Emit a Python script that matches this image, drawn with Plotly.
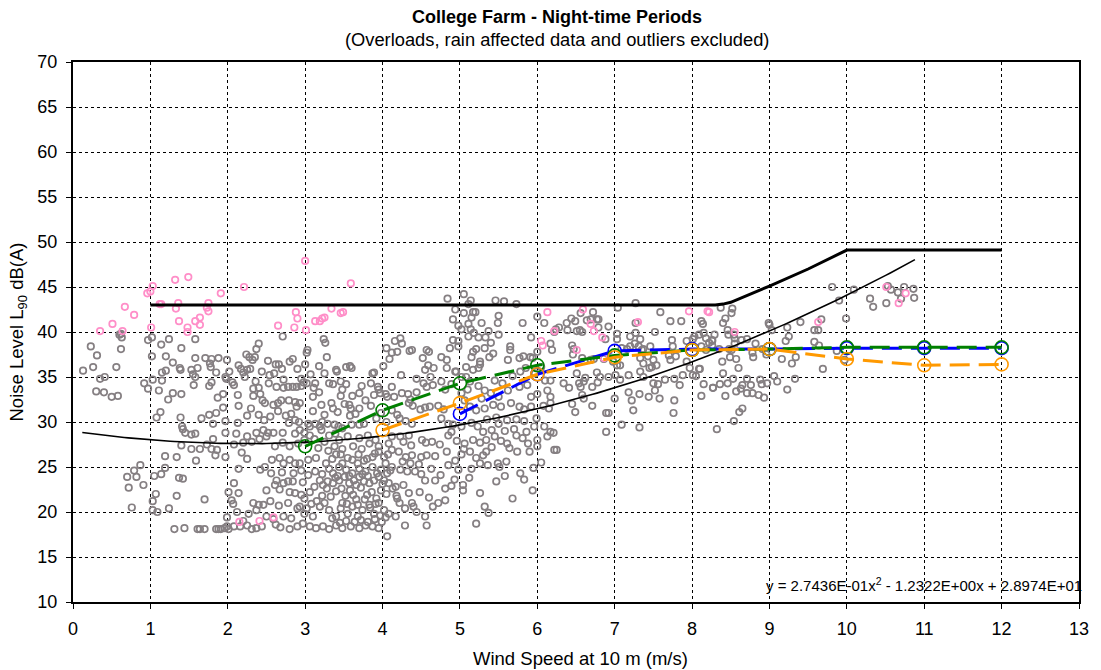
import numpy as np
import plotly.graph_objects as go

# ---- Measured night-time L90 samples (wind speed m/s, level dB(A)) ----
gray_0_2 = [
    (0.13, 35.7), (0.23, 38.4), (0.26, 36.1), (0.31, 37.4), (0.35, 34.8), (0.41, 35.0), (0.30, 33.4),
    (0.40, 33.3), (0.50, 32.8), (0.58, 32.9), (0.56, 36.1), (0.62, 38.1), (0.60, 39.7), (0.63, 39.4),
    (0.62, 39.8), (0.97, 39.1), (1.02, 39.4), (1.14, 38.6), (1.24, 39.2), (1.40, 38.2), (1.58, 39.2),
    (1.02, 37.3), (1.20, 37.3), (1.29, 36.6), (1.15, 35.5), (1.20, 35.7), (1.39, 35.8), (1.38, 36.0),
    (1.53, 35.8), (1.61, 36.0), (1.55, 35.3), (1.58, 35.0), (1.58, 37.1), (1.71, 37.1), (1.79, 37.0),
    (1.88, 37.1), (1.99, 36.9), (1.77, 36.5), (1.78, 36.1), (1.85, 35.5), (1.97, 35.0), (1.98, 34.8),
    (2.02, 35.6), (0.92, 34.3), (0.97, 33.7), (1.03, 34.7), (1.15, 34.6), (1.11, 33.5), (1.29, 33.2),
    (1.40, 33.1), (1.23, 32.5), (1.56, 34.1), (1.76, 34.0), (1.79, 34.4), (1.87, 32.7), (1.94, 33.1),
    (2.06, 34.4), (1.13, 31.1), (1.08, 30.5), (1.39, 30.5), (1.66, 30.4), (1.76, 30.8), (1.85, 31.0),
    (1.94, 31.6), (1.81, 29.8), (1.97, 30.1), (1.41, 29.5), (1.42, 29.2), (1.45, 28.8), (1.53, 28.6),
    (1.58, 28.7), (1.97, 28.8), (1.81, 28.1), (1.40, 27.4), (1.53, 27.0), (1.64, 27.0), (1.73, 27.5),
    (1.79, 27.0), (1.86, 26.9), (1.84, 26.3), (1.97, 26.1), (1.19, 26.2), (1.34, 26.1), (1.59, 25.7),
    (0.87, 25.2), (0.79, 24.6), (0.70, 23.9), (0.82, 23.9), (0.72, 22.7), (0.91, 23.0), (1.05, 24.0),
    (1.14, 24.2), (1.19, 24.9), (1.37, 23.8), (1.42, 23.7), (1.07, 22.0), (1.03, 21.2), (1.34, 21.8),
    (1.70, 21.4), (0.76, 20.5), (1.03, 20.2), (1.09, 20.0), (1.24, 20.4), (2.01, 22.2), (2.05, 21.3),
    (2.07, 20.9), (1.99, 19.4), (1.31, 18.1), (1.44, 18.2), (1.61, 18.1), (1.64, 18.1), (1.70, 18.1),
    (1.85, 18.1), (1.88, 18.1), (1.91, 18.1), (1.96, 18.2), (2.01, 18.1), (1.99, 18.4),
]

gray_2_4 = [
    (2.71, 39.5), (3.24, 39.2), (3.26, 38.8), (2.40, 38.7), (2.37, 38.1), (2.24, 37.5), (2.28, 37.2),
    (2.32, 36.9), (2.35, 37.2), (3.03, 38.0), (3.02, 37.7), (3.28, 37.2), (2.52, 36.8), (2.62, 36.4),
    (2.66, 36.4), (2.80, 36.7), (2.84, 37.0), (2.14, 36.3), (2.17, 35.9), (2.25, 35.8), (2.29, 35.9),
    (2.20, 35.5), (2.22, 35.0), (2.54, 35.2), (3.40, 35.8), (3.41, 35.6), (3.53, 36.1), (3.58, 36.2),
    (3.60, 36.0), (3.89, 35.5), (3.87, 35.4), (4.01, 36.2), (4.05, 38.2), (4.09, 37.0), (3.07, 35.3),
    (2.95, 34.8), (2.98, 34.4), (2.72, 34.7), (3.02, 34.3), (3.13, 34.3), (3.11, 33.8), (3.18, 33.3),
    (3.10, 32.8), (2.08, 34.1), (2.13, 33.0), (2.14, 31.8), (2.33, 33.7), (2.40, 33.8), (2.33, 32.9),
    (2.42, 33.1), (2.45, 32.4), (2.48, 32.1), (2.53, 34.3), (2.63, 33.9), (2.72, 33.8), (2.78, 33.9),
    (2.84, 33.9), (2.89, 33.9), (2.95, 34.0), (2.59, 31.9), (2.65, 32.1), (2.69, 32.4), (2.79, 32.4),
    (2.87, 32.2), (2.93, 32.1), (2.89, 31.7), (3.31, 34.3), (3.36, 34.2), (3.46, 34.5), (3.53, 34.2),
    (3.73, 34.0), (3.85, 34.3), (3.95, 33.6), (3.94, 33.9), (3.61, 32.9), (3.46, 32.9), (3.34, 32.1),
    (3.36, 31.5), (3.21, 31.9), (3.25, 30.8), (3.22, 30.0), (3.51, 32.0), (3.57, 31.9), (3.59, 31.5),
    (3.65, 30.9), (3.58, 30.7), (3.42, 31.1), (3.10, 31.2), (3.89, 33.0), (3.97, 33.2), (4.04, 33.1),
    (4.06, 32.8), (2.25, 30.7), (2.47, 30.2), (2.13, 29.9), (2.75, 30.7), (2.82, 30.9), (2.87, 30.2),
    (2.79, 29.9), (2.92, 30.0), (3.04, 29.8), (3.13, 29.8), (3.06, 29.5), (3.19, 29.5), (3.29, 29.8),
    (3.38, 29.7), (3.43, 29.5), (3.48, 29.3), (3.39, 28.7), (3.60, 29.7), (3.70, 29.7), (3.76, 29.8),
    (2.11, 28.7), (2.25, 28.4), (2.37, 28.8), (2.46, 29.1), (2.52, 28.8), (2.59, 28.8), (2.71, 28.8),
    (2.87, 28.7), (2.93, 29.1), (2.99, 28.8), (3.06, 28.5), (3.21, 29.1), (3.31, 28.5), (3.44, 28.0),
    (3.55, 28.4), (3.70, 28.2), (3.81, 28.5), (3.83, 27.6), (3.91, 28.0), (3.95, 27.3), (4.08, 27.6),
    (2.08, 27.5), (2.20, 27.7), (2.31, 27.8), (2.41, 28.1), (2.50, 28.4), (2.61, 27.3), (2.71, 27.7),
    (2.80, 27.3), (2.91, 27.6), (2.99, 28.0), (3.12, 28.1), (3.25, 27.8), (3.38, 27.3), (2.18, 26.6),
    (2.25, 25.9), (2.14, 24.8), (2.42, 24.7), (2.48, 25.0), (2.57, 25.8), (2.67, 26.0), (2.72, 25.4),
    (2.80, 25.8), (2.87, 25.4), (2.93, 25.4), (3.04, 25.8), (3.14, 26.0), (3.27, 25.4), (3.40, 26.4),
    (3.46, 26.4), (3.55, 26.0), (3.61, 25.8), (3.68, 25.4), (3.76, 25.7), (3.87, 26.1), (3.95, 26.7),
    (4.02, 26.1), (4.04, 25.4), (2.63, 23.5), (2.72, 23.2), (2.78, 23.4), (2.84, 23.4), (2.61, 23.0),
    (2.67, 22.5), (2.80, 22.2), (2.87, 22.1), (2.95, 21.9), (2.99, 21.5), (3.06, 22.2), (3.12, 22.8),
    (3.19, 23.5), (3.23, 23.0), (3.29, 23.4), (3.36, 23.2), (3.44, 23.5), (3.51, 23.9), (3.57, 23.2),
    (3.63, 23.5), (3.70, 23.9), (3.76, 23.4), (3.83, 23.2), (3.89, 23.5), (3.95, 23.9), (4.02, 23.5),
    (4.08, 23.2), (2.33, 21.0), (2.40, 20.8), (2.27, 19.8), (2.50, 19.5), (2.59, 19.2), (2.72, 19.5),
    (2.82, 19.3), (2.93, 20.6), (2.99, 19.8), (3.10, 19.5), (3.19, 20.6), (3.25, 21.0), (3.31, 20.2),
    (3.40, 19.5), (3.48, 21.0), (3.55, 19.8), (3.61, 20.6), (3.68, 19.5), (3.74, 20.2), (3.83, 20.8),
    (3.89, 19.8), (3.95, 21.0), (4.02, 20.2), (4.08, 19.8), (2.08, 18.4), (2.16, 18.4), (2.25, 18.5),
    (2.31, 18.1), (2.37, 18.2), (2.44, 18.4), (2.80, 18.1), (3.06, 18.4), (3.14, 18.2), (3.23, 18.4),
    (3.31, 18.1), (3.40, 18.5), (3.48, 18.2), (3.59, 18.4), (3.70, 18.2), (3.78, 18.5), (3.87, 18.4),
    (3.95, 18.2), (4.06, 17.3), (3.44, 25.0), (3.53, 24.7), (3.61, 24.3), (3.70, 24.8), (3.78, 24.5),
    (3.87, 25.0), (3.98, 24.7), (4.06, 24.3), (3.36, 24.3), (3.48, 25.4), (2.08, 23.2), (2.14, 22.1),
    (2.12, 20.0), (2.37, 20.2), (2.20, 19.0),
]

# Dense low-wind cluster, 2.3 - 4.2 m/s
gray_cluster = [
    (3.30, 26.8), (3.35, 25.9), (3.42, 24.0), (3.47, 22.6), (3.52, 21.8), (3.58, 22.4), (3.66, 21.4),
    (3.72, 22.7), (3.80, 21.9), (3.86, 22.2), (3.92, 21.5), (3.98, 22.4), (4.05, 22.0), (3.33, 21.7),
    (3.40, 22.3), (3.46, 20.4), (3.54, 20.9), (3.62, 21.9), (3.68, 20.8), (3.77, 21.4), (3.84, 20.5),
    (3.91, 20.9), (3.97, 19.6), (4.04, 19.4), (3.35, 19.3), (3.45, 18.8), (3.53, 19.0), (3.64, 18.9),
    (3.72, 19.1), (3.81, 18.9), (3.90, 19.2), (3.99, 18.9), (3.28, 22.6), (3.22, 21.8), (3.15, 21.2),
    (3.08, 20.9), (3.02, 20.4), (2.97, 23.3), (3.04, 24.1), (3.13, 24.5), (3.22, 24.2), (3.31, 24.8),
    (3.39, 23.8), (3.57, 24.0), (3.66, 23.0), (3.74, 24.2), (3.81, 24.0), (3.93, 24.3), (4.00, 23.1),
    (4.10, 24.6), (4.13, 22.6), (3.17, 27.1), (3.48, 27.0), (3.62, 27.3), (3.73, 27.0), (3.90, 26.5),
    (4.07, 26.4), (3.69, 26.4), (3.80, 25.9), (2.56, 24.3), (2.70, 24.4), (2.85, 24.3), (2.95, 24.6),
    (2.50, 22.4), (2.55, 21.2), (2.66, 20.7), (2.78, 21.0), (2.90, 20.4), (2.46, 20.8), (2.62, 18.6),
    (2.68, 18.3), (2.90, 18.4), (2.97, 18.7), (2.30, 31.5), (2.40, 30.8), (2.55, 30.6), (2.65, 31.2),
    (2.36, 34.5), (2.44, 35.6), (2.60, 35.4), (2.70, 35.9), (2.90, 35.9), (3.00, 36.4), (3.18, 36.2),
    (3.25, 35.4), (3.48, 33.6), (3.70, 33.2), (3.78, 32.4), (3.70, 31.5), (3.85, 31.8), (3.98, 31.0),
    (4.05, 30.0), (3.92, 30.4),
]

gray_4_6 = [
    (4.84, 43.7), (5.05, 44.2), (5.14, 43.5), (5.11, 43.1), (5.46, 43.5), (5.57, 43.4), (5.73, 43.1),
    (4.94, 42.5), (5.05, 42.1), (5.17, 42.2), (5.20, 42.2), (4.91, 41.4), (5.15, 41.6), (5.28, 41.0),
    (5.50, 41.8), (5.49, 41.0), (5.81, 41.0), (6.00, 41.7), (6.09, 41.0), (4.98, 40.7), (5.02, 40.3),
    (5.11, 40.9), (5.14, 40.3), (5.18, 39.9), (5.11, 39.5), (4.16, 39.0), (4.23, 39.3), (4.25, 38.7),
    (4.91, 39.1), (4.98, 39.0), (4.98, 38.4), (5.24, 39.4), (5.33, 39.4), (5.37, 40.1), (5.40, 38.8),
    (5.50, 39.7), (5.65, 38.4), (5.65, 38.0), (5.92, 39.4), (5.91, 37.2), (4.35, 37.9), (4.38, 38.0),
    (4.57, 38.0), (4.60, 37.8), (4.76, 37.2), (4.83, 36.9), (4.87, 38.2), (5.17, 37.8), (5.21, 38.1),
    (5.32, 38.2), (5.15, 37.2), (5.26, 36.7), (5.38, 37.2), (5.43, 37.6), (5.62, 36.9), (5.77, 37.1),
    (5.82, 37.3), (5.94, 37.1), (6.00, 37.8), (4.52, 37.1), (4.59, 36.3), (4.55, 35.8), (4.66, 36.0),
    (4.83, 36.0), (4.94, 35.6), (5.08, 36.1), (5.17, 35.8), (5.24, 36.0), (5.26, 36.4), (4.12, 37.7),
    (4.19, 37.8), (4.24, 35.2), (4.44, 34.8), (4.62, 35.0), (4.76, 34.5), (4.95, 35.6), (4.53, 34.3),
    (4.57, 33.9), (4.65, 34.1), (4.81, 33.6), (4.89, 34.2), (4.12, 33.9), (4.15, 32.8), (4.25, 33.2),
    (4.33, 33.1), (4.36, 32.5), (4.44, 33.3), (4.34, 32.1), (5.02, 35.0), (5.08, 35.0), (5.13, 34.5),
    (5.32, 33.5), (5.40, 33.2), (5.50, 32.8), (5.62, 33.5), (5.77, 33.9), (5.87, 34.1), (5.92, 32.8),
    (6.00, 33.1), (6.13, 33.5), (6.17, 32.8), (4.39, 31.8), (4.49, 31.4), (4.55, 31.6), (4.61, 31.7),
    (4.72, 31.8), (4.79, 31.4), (4.12, 31.3), (4.19, 30.8), (4.22, 30.4), (4.30, 30.1), (4.38, 29.8),
    (5.13, 31.7), (5.21, 31.3), (5.32, 31.5), (5.43, 31.9), (5.53, 31.7), (5.66, 32.1), (5.77, 31.7),
    (5.83, 31.4), (5.92, 31.7), (6.08, 31.8), (6.15, 31.5), (4.76, 30.4), (4.85, 29.8), (4.91, 29.7),
    (4.89, 28.9), (5.02, 29.5), (5.15, 29.9), (5.23, 29.5), (5.30, 28.9), (5.41, 29.1), (5.50, 29.8),
    (5.61, 30.2), (5.73, 30.3), (5.83, 30.1), (5.96, 29.5), (6.09, 29.5), (6.17, 28.9), (4.12, 28.4),
    (4.23, 28.4), (4.34, 28.5), (4.27, 27.8), (4.37, 27.4), (4.51, 28.0), (4.56, 27.7), (4.64, 27.8),
    (4.74, 27.5), (4.85, 28.5), (4.96, 27.9), (5.06, 27.6), (5.17, 28.0), (5.26, 27.7), (5.34, 28.0),
    (5.45, 28.4), (5.53, 27.9), (5.61, 27.6), (5.73, 28.5), (5.81, 28.2), (5.88, 27.6), (6.00, 28.0),
    (6.13, 28.4), (4.12, 26.9), (4.21, 26.7), (4.30, 26.1), (4.38, 26.3), (4.50, 26.1), (4.57, 26.3),
    (4.68, 26.2), (4.83, 26.7), (4.94, 25.7), (5.02, 26.4), (5.13, 26.7), (5.21, 26.0), (5.34, 26.7),
    (5.49, 25.4), (5.60, 25.6), (5.74, 26.7), (5.90, 26.7), (6.00, 27.3), (6.22, 26.9), (4.12, 25.0),
    (4.23, 24.7), (4.32, 24.5), (4.42, 24.5), (4.55, 23.5), (4.68, 23.5), (4.81, 22.6), (4.89, 22.9),
    (4.98, 24.7), (5.04, 23.0), (5.15, 24.8), (5.26, 25.4), (5.36, 25.2), (5.47, 23.4), (5.51, 25.0),
    (5.83, 23.6), (5.94, 22.4), (4.17, 22.8), (4.27, 23.0), (4.34, 22.1), (4.19, 21.5), (4.29, 20.4),
    (4.38, 21.0), (4.44, 20.0), (4.55, 19.5), (4.72, 21.0), (4.81, 21.3), (5.04, 22.4), (5.26, 22.1),
    (5.32, 20.6), (5.37, 19.9), (5.68, 21.5), (5.21, 18.7), (4.29, 18.5), (4.57, 18.5), (4.17, 19.5),
    (4.18, 21.8), (4.22, 21.0), (4.40, 20.6), (4.48, 22.2), (4.60, 21.6), (4.65, 20.6), (4.50, 24.2),
    (4.63, 24.8), (4.75, 24.1), (4.85, 25.2), (4.26, 25.6), (4.36, 25.4), (4.47, 25.3), (5.02, 33.2),
    (5.06, 32.4), (5.10, 33.6), (5.24, 34.0), (5.28, 32.6), (5.45, 34.6), (5.55, 34.3), (5.68, 35.1),
    (5.78, 35.6), (5.85, 36.0), (5.97, 35.4), (6.05, 36.1), (6.10, 34.6), (5.35, 30.3), (5.47, 30.5),
    (5.58, 29.0), (5.70, 29.2), (5.86, 28.9), (5.99, 30.4), (5.05, 27.0), (5.30, 26.3), (5.41, 27.2),
    (5.64, 27.1), (5.95, 24.9), (6.05, 25.5), (5.78, 24.3), (5.58, 24.0), (5.12, 23.8), (4.93, 23.6),
]

gray_6_8 = [
    (7.27, 43.2), (7.04, 42.7), (6.72, 42.2), (6.56, 42.1), (7.59, 42.2), (6.44, 41.5), (6.38, 41.0),
    (6.49, 41.2), (6.64, 41.3), (6.69, 41.4), (6.77, 41.4), (6.79, 41.4), (7.72, 41.2), (7.86, 41.2),
    (8.12, 41.2), (8.14, 40.9), (7.27, 41.0), (6.22, 40.0), (6.28, 40.5), (6.24, 40.3), (6.39, 40.2),
    (6.51, 40.1), (6.55, 40.2), (6.58, 40.0), (6.79, 40.5), (6.88, 39.2), (6.92, 40.6), (7.03, 39.8),
    (7.03, 39.2), (7.20, 39.5), (7.27, 39.9), (7.33, 39.2), (7.26, 38.7), (7.31, 38.4), (7.35, 38.0),
    (7.46, 38.4), (7.52, 40.0), (7.74, 39.1), (7.75, 38.4), (7.93, 39.0), (8.01, 39.2), (8.03, 39.5),
    (8.09, 39.7), (8.15, 39.9), (8.18, 39.3), (8.22, 38.8), (8.26, 39.1), (8.12, 38.4), (6.17, 38.7),
    (6.19, 38.0), (6.45, 38.5), (6.47, 38.1), (6.46, 37.5), (7.09, 38.2), (7.16, 38.1), (7.20, 38.4),
    (7.37, 38.1), (7.33, 37.1), (7.43, 37.3), (7.50, 36.9), (7.45, 36.0), (7.48, 36.1), (7.37, 36.5),
    (7.54, 36.3), (7.70, 37.4), (7.72, 36.9), (7.79, 37.3), (7.93, 36.7), (7.97, 36.0), (8.10, 35.9),
    (8.18, 38.0), (6.58, 37.1), (6.69, 36.9), (6.73, 37.0), (6.86, 37.0), (6.51, 35.4), (6.77, 35.5),
    (7.03, 36.3), (7.07, 36.3), (6.98, 36.7), (6.17, 34.6), (6.34, 34.3), (6.41, 33.8), (6.54, 34.3),
    (6.56, 33.9), (6.60, 34.5), (6.62, 34.9), (6.71, 33.9), (6.78, 34.4), (6.81, 35.0), (6.92, 35.0),
    (7.01, 35.2), (7.07, 34.7), (7.18, 35.2), (7.33, 35.6), (7.37, 35.0), (7.50, 34.3), (7.56, 34.2),
    (7.52, 33.5), (7.65, 34.7), (7.77, 34.8), (7.84, 34.1), (7.88, 35.2), (8.01, 35.2), (8.05, 35.1),
    (8.09, 35.9), (8.15, 34.2), (8.27, 33.8), (6.17, 32.1), (6.45, 32.0), (6.49, 31.1), (6.58, 33.0),
    (6.60, 32.6), (6.71, 31.8), (6.89, 31.0), (6.92, 31.0), (7.00, 32.6), (7.18, 33.3), (7.22, 32.4),
    (7.24, 31.3), (7.32, 33.1), (7.44, 32.8), (7.58, 32.6), (7.77, 32.4), (7.76, 31.0), (8.12, 32.9),
    (7.09, 29.7), (7.32, 29.4), (6.89, 28.9), (6.21, 28.8), (6.25, 26.9),
]

gray_8_11 = [
    (9.81, 45.0), (10.09, 44.7), (9.90, 43.5), (8.37, 42.7), (8.52, 42.6), (8.51, 42.1), (8.43, 41.5),
    (8.40, 41.0), (8.99, 41.0), (9.00, 40.8), (9.40, 41.1), (9.67, 41.4), (9.99, 41.5), (8.46, 40.2),
    (8.54, 39.7), (8.55, 39.3), (8.47, 39.7), (8.29, 39.7), (8.26, 39.0), (8.26, 38.5), (8.64, 39.1),
    (8.71, 39.2), (9.23, 40.5), (9.25, 39.5), (9.21, 39.0), (9.03, 40.2), (9.58, 40.2), (9.63, 40.2),
    (9.58, 38.9), (9.64, 38.5), (8.35, 38.1), (8.48, 38.1), (8.55, 38.7), (8.51, 38.0), (8.82, 38.7),
    (8.78, 37.7), (8.79, 37.2), (8.91, 38.1), (8.96, 37.5), (8.39, 36.7), (8.49, 37.2), (8.57, 37.0),
    (8.60, 36.0), (8.40, 35.4), (9.16, 37.0), (9.29, 36.5), (9.34, 37.2), (9.69, 35.9), (9.87, 37.9),
    (9.97, 36.9), (8.27, 33.8), (8.36, 34.2), (8.43, 32.9), (8.46, 34.3), (8.53, 34.8), (8.57, 33.4),
    (8.63, 33.7), (8.65, 34.1), (8.71, 34.8), (8.71, 33.2), (8.76, 34.1), (8.78, 33.2), (8.86, 33.0),
    (8.88, 34.7), (8.90, 34.2), (8.93, 32.7), (8.97, 34.3), (9.06, 35.1), (9.10, 34.5), (9.23, 33.6),
    (9.33, 34.8), (8.61, 31.1), (8.65, 31.5), (8.54, 30.1), (8.32, 29.2), (10.53, 45.1), (10.57, 44.7),
    (10.66, 44.4), (10.74, 45.0), (10.86, 44.8), (10.70, 43.7), (10.87, 43.8), (10.51, 43.2),
    (10.30, 43.7), (10.34, 42.8),
]

# Samples flagged separately (pink)
pink_points = [
    (1.49, 46.1), (1.32, 45.8), (1.03, 45.1), (1.00, 44.5), (0.96, 44.3), (1.91, 44.3), (0.67, 42.8),
    (0.79, 41.9), (0.51, 40.9), (0.35, 40.1), (0.64, 40.1), (1.01, 40.5), (1.12, 43.1), (1.14, 43.1),
    (1.36, 43.2), (1.33, 42.6), (1.37, 41.2), (1.48, 40.5), (1.48, 40.0), (1.58, 41.2), (1.64, 41.6),
    (1.64, 40.8), (1.75, 43.2), (1.73, 42.7), (1.75, 42.3), (3.00, 47.9), (3.59, 45.4), (2.21, 45.0),
    (2.88, 42.2), (2.90, 41.5), (2.65, 40.7), (2.86, 40.5), (3.01, 40.2), (3.13, 41.2), (3.19, 41.2),
    (3.22, 41.5), (3.25, 41.6), (3.34, 42.6), (3.46, 42.1), (3.49, 42.2), (2.15, 18.9), (2.41, 19.0),
    (2.59, 19.4), (6.13, 42.2), (6.05, 39.0), (6.07, 38.5), (6.22, 40.1), (6.59, 42.5), (7.96, 42.3),
    (8.20, 42.3), (7.30, 41.1), (6.73, 40.1), (6.84, 39.4), (6.51, 38.0), (6.86, 37.1), (6.69, 40.9),
    (8.22, 42.2), (8.55, 40.0), (9.63, 41.1), (10.51, 45.0), (10.76, 44.3), (10.67, 43.2),
]

# ---- Binned averages per integer wind speed ----
blue_x = [5, 6, 7, 8, 9, 10, 11, 12]
blue_y = [30.9, 35.3, 37.9, 38.1, 38.1, 38.2, 38.2, 38.2]
green_x = [3, 4, 5, 6, 7, 8, 9, 10, 11, 12]
green_y = [27.3, 31.3, 34.3, 36.3, 37.4, 38.0, 38.1, 38.3, 38.3, 38.3]
orange_x = [4, 5, 6, 7, 8, 9, 10, 11, 12]
orange_y = [29.1, 32.1, 35.3, 37.2, 38.0, 38.1, 37.0, 36.3, 36.4]

# ---- Night-time limit ----
limit_x = [1, 8.3, 8.4, 8.5, 9, 9.5, 10, 12]
limit_y = [43.0, 43.0, 43.1, 43.3, 45.1, 47.0, 49.1, 49.1]

# ---- Polynomial trendline (coefficients as printed on the chart) ----
fit_coeffs = [2.7436e-01, -1.2322e+00, 2.8974e+01]
fit_range = [0.12, 10.88]

FONT = "Liberation Sans, Arial, sans-serif"

gray_all = gray_0_2 + gray_2_4 + gray_cluster + gray_4_6 + gray_6_8 + gray_8_11
gx = [p[0] for p in gray_all]
gy = [p[1] for p in gray_all]
px = [p[0] for p in pink_points]
py = [p[1] for p in pink_points]

fit_x = np.linspace(fit_range[0], fit_range[1], 200)
fit_y = np.polyval(fit_coeffs, fit_x)

fig = go.Figure()

fig.add_trace(go.Scatter(
    x=gx, y=gy, mode="markers",
    marker=dict(symbol="circle-open", size=6.5, color="#857f82", line=dict(width=1.7)),
    hoverinfo="skip",
))
fig.add_trace(go.Scatter(
    x=px, y=py, mode="markers",
    marker=dict(symbol="circle-open", size=6.5, color="#ff8ec8", line=dict(width=1.7)),
    hoverinfo="skip",
))
fig.add_trace(go.Scatter(
    x=limit_x, y=limit_y, mode="lines",
    line=dict(color="black", width=3),
))
fig.add_trace(go.Scatter(
    x=fit_x, y=fit_y, mode="lines",
    line=dict(color="black", width=1.6),
))
for sx, sy, col in [(blue_x, blue_y, "#0000ff"),
                    (green_x, green_y, "#008000"),
                    (orange_x, orange_y, "#ff9900")]:
    fig.add_trace(go.Scatter(
        x=sx, y=sy, mode="lines+markers",
        line=dict(color=col, width=3, dash="20px,9px"),
        marker=dict(symbol="circle-open", size=13, color=col, line=dict(width=1.6)),
    ))

axis_common = dict(
    showline=True, linecolor="black", linewidth=2, mirror=True,
    ticks="outside", ticklen=5, tickwidth=1, tickcolor="black",
    showgrid=True, gridcolor="black", gridwidth=1, griddash="dot",
    zeroline=False,
    tickfont=dict(family=FONT, size=18, color="black"),
)

fig.update_layout(
    width=1101, height=670,
    margin=dict(l=73, r=13, t=62, b=68),
    paper_bgcolor="white", plot_bgcolor="white",
    showlegend=False,
    xaxis=dict(range=[0, 13], dtick=1, tick0=0, ticklabelstandoff=4, **axis_common),
    yaxis=dict(range=[10, 70], dtick=5, tick0=10, ticklabelstandoff=5, **axis_common),
    font=dict(family=FONT, color="black"),
)

fig.add_annotation(text="<b>College Farm - Night-time Periods</b>",
                   xref="paper", yref="paper", x=0.481, y=1 + 45 / 540,
                   xanchor="center", yanchor="middle", showarrow=False,
                   font=dict(family=FONT, size=18, color="black"))
fig.add_annotation(text="(Overloads, rain affected data and outliers excluded)",
                   xref="paper", yref="paper", x=0.481, y=1 + 23 / 540,
                   xanchor="center", yanchor="middle", showarrow=False,
                   font=dict(family=FONT, size=18.3, color="black"))
fig.add_annotation(text="Wind Speed at 10 m (m/s)",
                   xref="paper", yref="paper", x=0.504, y=-56 / 540,
                   xanchor="center", yanchor="middle", showarrow=False,
                   font=dict(family=FONT, size=18.5, color="black"))
fig.add_annotation(text="Noise Level L<sub>90</sub> dB(A)",
                   xref="paper", yref="paper", x=-55 / 1015, y=0.5,
                   xanchor="center", yanchor="middle", showarrow=False, textangle=-90,
                   font=dict(family=FONT, size=18.5, color="black"))
fig.add_annotation(text="y = 2.7436E-01x<sup>2</sup> - 1.2322E+00x + 2.8974E+01",
                   xref="paper", yref="paper", x=1 + 5 / 1015, y=18 / 540,
                   xanchor="right", yanchor="middle", showarrow=False,
                   font=dict(family=FONT, size=15, color="black"))

fig.write_html("out.html")
